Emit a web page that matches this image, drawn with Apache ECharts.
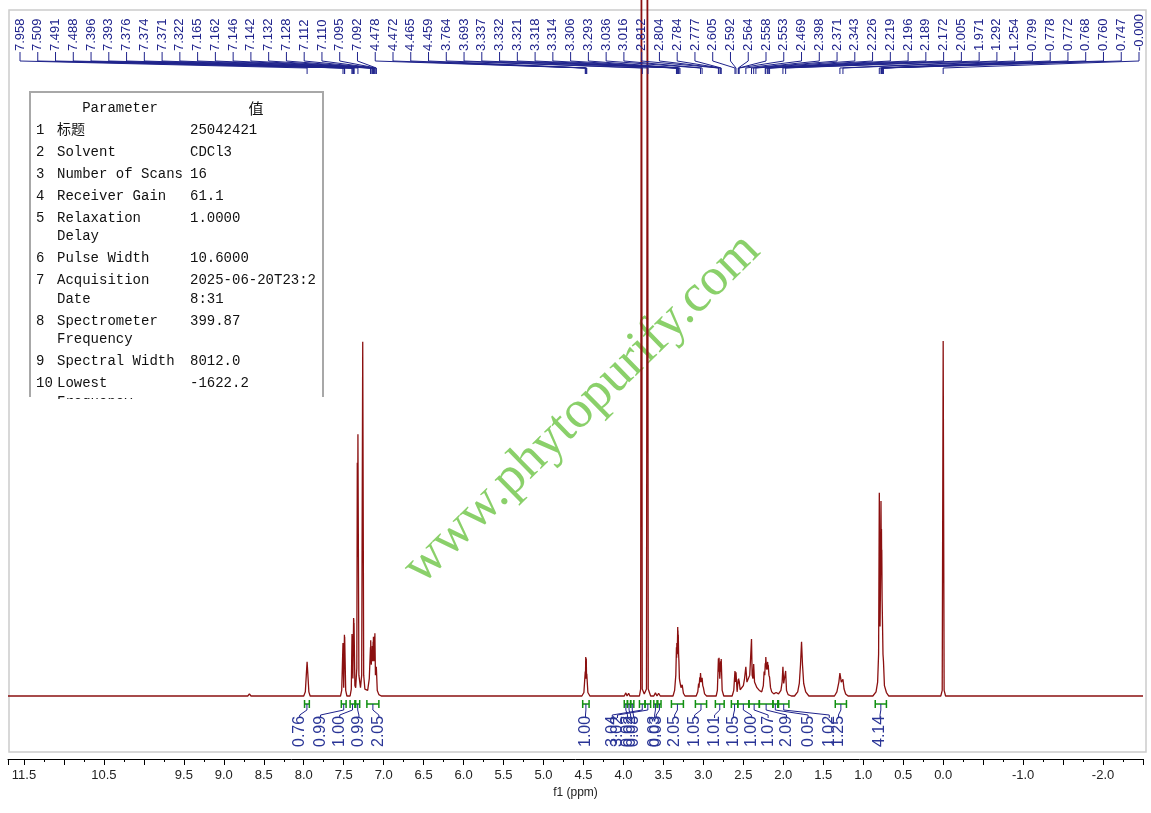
<!DOCTYPE html>
<html lang="zh">
<head>
<meta charset="UTF-8">
<title>1H NMR</title>
<script src="https://cdn.jsdelivr.net/npm/echarts@6/dist/echarts.min.js"></script>
<style>
  html, body { margin: 0; padding: 0; background: #fff; }
  #main { width: 1151px; height: 813px; }
</style>
</head>
<body>
<div id="main"></div>
<script>
// trace, [ppm, intensity]; baseline = 0
var spectrum = [
  [11.7, 0], [8.70, 0], [8.68, 0.3], [8.66, 0],
  [8.00, 0], [7.98, 0.6], [7.968, 3.0], [7.958, 4.9], [7.948, 3.0], [7.936, 0.6], [7.92, 0],
  [7.54, 0], [7.525, 0.8], [7.509, 7.6], [7.500, 1.2], [7.491, 8.8], [7.489, 6.0], [7.488, 8.5], [7.475, 0.8], [7.46, 0],
  [7.42, 0], [7.405, 1.0], [7.396, 8.9], [7.394, 6.5], [7.393, 8.6], [7.385, 2.5], [7.376, 11.2], [7.375, 9.0],
  [7.374, 11.0], [7.373, 9.0], [7.371, 10.5], [7.36, 1.5], [7.35, 1.2], [7.336, 4.0], [7.330, 33.5], [7.326, 20],
  [7.322, 37.6], [7.31, 3.0], [7.29, 1.2], [7.275, 3.0], [7.262, 50.9], [7.25, 3.0], [7.235, 1.0],
  [7.20, 0.8], [7.18, 2.5], [7.165, 7.0], [7.163, 5.0], [7.162, 8.0], [7.155, 4.5], [7.146, 6.5], [7.144, 5.0],
  [7.142, 7.2], [7.137, 5.0], [7.132, 7.8], [7.130, 6.0], [7.128, 8.5], [7.12, 5.0], [7.112, 8.6], [7.111, 6.0],
  [7.110, 9.0], [7.103, 3.0], [7.095, 4.0], [7.094, 3.0], [7.092, 4.2], [7.08, 0.8], [7.06, 0.2], [7.03, 0],
  [4.52, 0], [4.495, 0.5], [4.478, 3.5], [4.475, 2.5], [4.472, 5.6], [4.468, 4.0], [4.465, 5.4], [4.462, 2.5],
  [4.459, 3.2], [4.445, 0.5], [4.42, 0],
  [3.99, 0], [3.97, 0.45], [3.955, 0], [3.935, 0.4], [3.92, 0],
  [3.80, 0], [3.785, 1.0], [3.775, 140], [3.765, 1.0], [3.74, 0.3], [3.712, 1.0], [3.700, 140], [3.690, 1.0], [3.66, 0],
  [3.62, 0], [3.60, 0.45], [3.58, 0], [3.56, 0.4], [3.54, 0],
  [3.38, 0], [3.36, 0.8], [3.345, 3.0], [3.337, 7.0], [3.334, 5.5], [3.332, 7.6], [3.327, 6.0], [3.321, 9.9],
  [3.320, 8.5], [3.318, 9.4], [3.316, 8.0], [3.314, 8.8], [3.310, 6.0], [3.306, 5.0], [3.300, 2.5], [3.293, 2.0],
  [3.28, 1.2], [3.265, 1.6], [3.25, 0.4], [3.23, 0],
  [3.09, 0], [3.07, 0.6], [3.06, 1.8], [3.055, 1.2], [3.045, 2.7], [3.040, 2.0], [3.036, 3.3], [3.028, 2.0],
  [3.016, 2.6], [3.008, 1.5], [3.000, 1.2], [2.985, 0.3], [2.96, 0],
  [2.84, 0], [2.825, 0.8], [2.812, 5.4], [2.808, 3.5], [2.804, 5.5], [2.795, 2.5], [2.784, 5.0], [2.781, 3.5],
  [2.777, 5.3], [2.765, 0.8], [2.745, 0],
  [2.64, 0], [2.62, 0.8], [2.605, 3.6], [2.598, 2.0], [2.592, 3.4], [2.578, 0.6], [2.564, 2.4], [2.561, 1.8],
  [2.558, 2.5], [2.556, 1.8], [2.553, 2.2], [2.54, 0.9], [2.52, 1.0], [2.50, 1.5], [2.485, 2.5], [2.469, 4.2],
  [2.455, 2.0], [2.44, 2.2], [2.42, 3.0], [2.398, 8.2], [2.39, 3.0], [2.38, 2.5], [2.371, 4.6], [2.36, 2.0],
  [2.343, 2.2], [2.33, 1.2], [2.30, 0.8], [2.27, 0.6], [2.25, 1.5], [2.24, 3.5], [2.232, 3.0], [2.226, 4.7],
  [2.222, 4.2], [2.219, 5.6], [2.21, 3.8], [2.196, 4.9], [2.193, 3.8], [2.189, 4.5], [2.18, 3.0], [2.172, 2.7],
  [2.16, 1.2], [2.145, 0.6], [2.12, 0.3], [2.09, 0.5], [2.06, 0.3], [2.03, 0.8], [2.015, 2.0], [2.005, 4.2],
  [1.995, 1.8], [1.985, 1.6], [1.971, 3.6], [1.96, 0.8], [1.94, 0.2], [1.90, 0],
  [1.86, 0], [1.82, 0.6], [1.80, 1.8], [1.785, 4.5], [1.772, 7.8], [1.76, 4.5], [1.745, 1.8], [1.72, 0.6], [1.68, 0],
  [1.36, 0], [1.33, 0.6], [1.305, 2.0], [1.292, 3.3], [1.275, 2.0], [1.262, 2.0], [1.254, 2.4], [1.24, 1.0],
  [1.22, 0.3], [1.19, 0],
  [0.88, 0], [0.84, 0.6], [0.82, 2.0], [0.808, 6.0], [0.799, 29.2], [0.79, 10], [0.782, 18], [0.778, 28.0],
  [0.775, 22], [0.772, 24], [0.770, 20], [0.768, 21], [0.764, 14], [0.760, 14], [0.753, 6.0], [0.747, 5.0],
  [0.735, 1.5], [0.71, 0.5], [0.68, 0],
  [0.03, 0], [0.012, 0.8], [0.0, 51.0], [-0.012, 0.8], [-0.03, 0], [-2.5, 0]
];

// peak picking labels along the top
var peakLabels = [
  '7.958', '7.509', '7.491', '7.488', '7.396', '7.393', '7.376', '7.374', '7.371', '7.322',
  '7.165', '7.162', '7.146', '7.142', '7.132', '7.128', '7.112', '7.110', '7.095', '7.092',
  '4.478', '4.472', '4.465', '4.459', '3.764', '3.693', '3.337', '3.332', '3.321', '3.318',
  '3.314', '3.306', '3.293', '3.036', '3.016', '2.812', '2.804', '2.784', '2.777', '2.605',
  '2.592', '2.564', '2.558', '2.553', '2.469', '2.398', '2.371', '2.343', '2.226', '2.219',
  '2.196', '2.189', '2.172', '2.005', '1.971', '1.292', '1.254', '0.799', '0.778', '0.772',
  '0.768', '0.760', '0.747', '-0.000'
];

// integrals: [from ppm, to ppm, value]
var integrals = [
  [7.99, 7.93, 0.76], [7.53, 7.47, 0.99], [7.42, 7.36, 1.00], [7.35, 7.30, 0.99], [7.21, 7.06, 2.05],
  [4.51, 4.43, 1.00], [3.80, 3.73, 3.04], [3.73, 3.66, 3.02], [3.99, 3.95, 0.02], [3.95, 3.91, 0.02],
  [3.91, 3.87, 0.03], [3.62, 3.58, 0.03], [3.57, 3.53, 0.03], [3.40, 3.25, 2.05], [3.10, 2.96, 1.05],
  [2.85, 2.74, 1.01], [2.65, 2.57, 1.05], [2.57, 2.43, 1.00], [2.43, 2.30, 1.07], [2.30, 2.13, 2.09],
  [2.13, 2.07, 0.05], [2.06, 1.93, 1.02], [1.35, 1.21, 1.25], [0.85, 0.71, 4.14]
];
// where each integral value is written (ppm)
var intLabelPpm = [
  8.05, 7.79, 7.55, 7.31, 7.06, 4.475, 4.14, 4.075, 3.95, 3.91, 3.875, 3.61, 3.59,
  3.36, 3.11, 2.86, 2.625, 2.40, 2.19, 1.96, 1.69, 1.425, 1.31, 0.79
];

var paramNames = ['标题', 'Solvent', 'Number of Scans', 'Receiver Gain', 'Relaxation\nDelay', 'Pulse Width',
  'Acquisition\nDate', 'Spectrometer\nFrequency', 'Spectral Width', 'Lowest\nFrequency'];
var paramValues = ['25042421', 'CDCl3', '16', '61.1', '1.0000', '10.6000', '2025-06-20T23:2\n8:31',
  '399.87', '8012.0', '-1622.2'];

var hiddenTicks = ['11.0', '10.0', '-0.5', '-1.5', '-2.5'];

var chart = echarts.init(document.getElementById('main'));

var NAVY = '#1f238c';
var monoFont = "14px 'Liberation Mono', 'Noto Sans CJK SC', monospace";

// parameter table
var table = [];
table.push({ type: 'polyline', z: 20, shape: { points: [[30, 397], [30, 92], [323, 92], [323, 397]] },
  style: { stroke: '#a8a8a8', lineWidth: 2, fill: null } });
table.push({ type: 'text', z: 20, x: 120, y: 108, style: { text: 'Parameter', font: monoFont, fill: '#111', align: 'center', verticalAlign: 'middle' } });
table.push({ type: 'text', z: 20, x: 256, y: 108, style: { text: '值', font: "15px 'Noto Sans CJK SC'", fill: '#111', align: 'center', verticalAlign: 'middle' } });
var rowY = 130;
paramNames.forEach(function (name, i) {
  var lines = Math.max(name.split('\n').length, paramValues[i].split('\n').length);
  var top = rowY - 9.25;
  table.push({ type: 'text', z: 20, x: 36, y: top, style: { text: String(i + 1), font: monoFont, fill: '#111', verticalAlign: 'top', lineHeight: 18.5 } });
  table.push({ type: 'text', z: 20, x: 57, y: top, style: { text: name, font: monoFont, fill: '#111', verticalAlign: 'top', lineHeight: 18.5 } });
  table.push({ type: 'text', z: 20, x: 190, y: top, style: { text: paramValues[i], font: monoFont, fill: '#111', verticalAlign: 'top', lineHeight: 18.5 } });
  rowY += lines * 18.5 + 3.5;
});
// the table is cut off at the bottom edge
table.push({ type: 'rect', z: 21, shape: { x: 29, y: 399, width: 296, height: 16 }, style: { fill: '#fff' } });

var option = {
  animation: false,
  backgroundColor: '#fff',
  grid: { left: 8, right: 8, top: 0, bottom: 54, outerBoundsMode: 'none', containLabel: false },
  xAxis: {
    type: 'value',
    inverse: true,
    min: -2.5,
    max: 11.7,
    interval: 0.5,
    name: 'f1 (ppm)',
    nameLocation: 'middle',
    nameGap: 28,
    nameTextStyle: { fontFamily: 'Liberation Sans', fontSize: 12, color: '#222' },
    axisLine: { onZero: false, lineStyle: { color: '#000', width: 1 } },
    axisTick: { length: 6, lineStyle: { color: '#000' } },
    minorTick: { show: true, splitNumber: 2, length: 3, lineStyle: { color: '#000' } },
    splitLine: { show: false },
    axisLabel: {
      margin: 10,
      fontFamily: 'Liberation Sans',
      fontSize: 13,
      color: '#222',
      showMaxLabel: false,
      formatter: function (v) {
        if (Math.abs(v * 2 - Math.round(v * 2)) > 1e-6) return '';
        var s = v.toFixed(1);
        if (s === '-0.0') s = '0.0';
        return hiddenTicks.indexOf(s) >= 0 ? '' : s;
      }
    }
  },
  yAxis: { type: 'value', min: -9.05, max: 100, show: false },
  graphic: [
    { type: 'rect', z: 0, shape: { x: 9, y: 10, width: 1137, height: 742 },
      style: { fill: null, stroke: '#cccccc', lineWidth: 1.5 } },
    { type: 'text', z: 1, x: 582, y: 409, rotation: 0.775,
      style: { text: 'www.phytopurify.com', font: "53px 'Liberation Serif'", fill: 'rgba(118,200,80,0.85)',
        align: 'center', verticalAlign: 'middle' } }
  ].concat(table),
  series: [
    {
      type: 'line',
      data: spectrum,
      showSymbol: false,
      symbol: 'none',
      clip: true,
      silent: true,
      z: 3,
      lineStyle: { color: '#8b1010', width: 1.3 }
    },
    {
      type: 'custom',
      silent: true,
      z: 5,
      data: peakLabels.map(function (s) { return [parseFloat(s), 0]; }),
      renderItem: function (params, api) {
        var i = params.dataIndex;
        var peakX = api.coord([api.value(0), 0])[0];
        var step = (1139 - 20) / (peakLabels.length - 1);
        var lx = 20 + i * step;
        return {
          type: 'group',
          children: [
            { type: 'polyline', shape: { points: [[lx, 52], [lx, 61], [peakX, 68], [peakX, 74]] },
              style: { stroke: NAVY, lineWidth: 1, fill: null } },
            { type: 'text', x: lx, y: 51, rotation: Math.PI / 2,
              style: { text: peakLabels[i], font: "13px 'Liberation Sans'", fill: NAVY,
                align: 'left', verticalAlign: 'middle' } }
          ]
        };
      }
    },
    {
      type: 'custom',
      silent: true,
      z: 5,
      data: integrals,
      renderItem: function (params, api) {
        var i = params.dataIndex;
        var x1 = api.coord([api.value(0), 0])[0];
        var x2 = api.coord([api.value(1), 0])[0];
        var xc = (x1 + x2) / 2;
        var lx = api.coord([intLabelPpm[i], 0])[0];
        var green = '#119011';
        return {
          type: 'group',
          children: [
            { type: 'line', shape: { x1: x1, y1: 704, x2: x2, y2: 704 }, style: { stroke: green, lineWidth: 1.5 } },
            { type: 'line', shape: { x1: x1, y1: 700, x2: x1, y2: 708 }, style: { stroke: green, lineWidth: 1.5 } },
            { type: 'line', shape: { x1: x2, y1: 700, x2: x2, y2: 708 }, style: { stroke: green, lineWidth: 1.5 } },
            { type: 'polyline', shape: { points: [[xc, 704], [xc, 710], [lx, 715], [lx, 718]] },
              style: { stroke: NAVY, lineWidth: 1, fill: null } },
            { type: 'text', x: lx, y: 747, rotation: Math.PI / 2,
              style: { text: api.value(2).toFixed(2), font: "16px 'Liberation Sans'", fill: '#2a3596',
                align: 'left', verticalAlign: 'middle' } }
          ]
        };
      }
    }
  ]
};

chart.setOption(option);
</script>
</body>
</html>
